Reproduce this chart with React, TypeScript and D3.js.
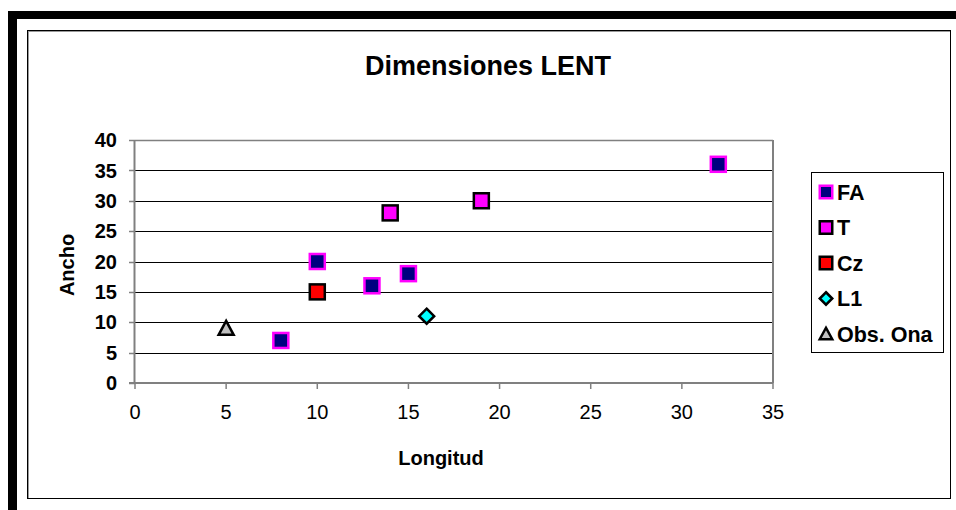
import React from "react";
import * as d3 from "d3";

const title = "Dimensiones LENT";
const xLabel = "Longitud";
const yLabel = "Ancho";
const xTicks = [0, 5, 10, 15, 20, 25, 30, 35];
const yTicks = [0, 5, 10, 15, 20, 25, 30, 35, 40];

const faX = [8, 10, 13, 15, 32];
const faY = [7, 20, 16, 18, 36];
const tX = [14, 19];
const tY = [28, 30];
const czX = [10];
const czY = [15];
const l1X = [16];
const l1Y = [11];
const onaX = [5];
const onaY = [9];

const seriesNames = ["FA", "T", "Cz", "L1", "Obs. Ona"];

type Shape = "square" | "diamond" | "triangle";
const seriesStyle: { fill: string; stroke: string; shape: Shape }[] = [
  { fill: "#000080", stroke: "#FF00FF", shape: "square" },
  { fill: "#FF00FF", stroke: "#000000", shape: "square" },
  { fill: "#FF0000", stroke: "#000000", shape: "square" },
  { fill: "#00FFFF", stroke: "#000000", shape: "diamond" },
  { fill: "#C0C0C0", stroke: "#000000", shape: "triangle" },
];
const seriesData = [
  [faX, faY],
  [tX, tY],
  [czX, czY],
  [l1X, l1Y],
  [onaX, onaY],
];

const font = "'Liberation Sans', Arial, sans-serif";

function Marker({ x, y, shape, fill, stroke, size }: { x: number; y: number; shape: Shape; fill: string; stroke: string; size: number }) {
  const h = size / 2;
  if (shape === "square") {
    return <rect x={x - h} y={y - h} width={size} height={size} fill={fill} stroke={stroke} strokeWidth={2.5} />;
  }
  if (shape === "diamond") {
    return <path d={`M${x},${y - h}L${x + h},${y}L${x},${y + h}L${x - h},${y}Z`} fill={fill} stroke={stroke} strokeWidth={2.5} strokeLinejoin="miter" />;
  }
  return <path d={`M${x},${y - h}L${x + h},${y + h - 1}L${x - h},${y + h - 1}Z`} fill={fill} stroke={stroke} strokeWidth={2.5} />;
}

export default function App() {
  const W = 956, H = 510;
  const x = d3.scaleLinear().domain([0, 35]).range([135, 773]);
  const y = d3.scaleLinear().domain([0, 40]).range([383, 140]);

  return (
    <svg width={W} height={H} style={{ position: "absolute", left: 0, top: 0 }} fontFamily={font}>
      <rect x={0} y={0} width={W} height={H} fill="#fff" />
      {/* black frame */}
      <rect x={8} y={11} width={948} height={8} fill="#000" />
      <rect x={8} y={11} width={9} height={499} fill="#000" />
      {/* chart area border */}
      <rect x={27.5} y={30.5} width={923} height={468} fill="#fff" stroke="#000" strokeWidth={1} />
      <line x1={28} y1={31.5} x2={950} y2={31.5} stroke="#999" strokeWidth={1} />
      <line x1={28.5} y1={31} x2={28.5} y2={498} stroke="#999" strokeWidth={1} />

      <text x={488} y={75} textAnchor="middle" fontSize={27} fontWeight="bold">{title}</text>

      {/* gridlines */}
      {yTicks.slice(1, -1).map((t) => (
        <line key={"g" + t} x1={x(0)} x2={x(35)} y1={Math.round(y(t)) + 0.5} y2={Math.round(y(t)) + 0.5} stroke="#000" strokeWidth={1} />
      ))}
      {/* plot border */}
      <line x1={x(0)} x2={x(35)} y1={140.5} y2={140.5} stroke="#808080" strokeWidth={1.5} />
      <line x1={773} x2={773} y1={140} y2={383} stroke="#808080" strokeWidth={2} />
      {/* axes */}
      <line x1={134.5} x2={134.5} y1={140} y2={384} stroke="#808080" strokeWidth={2} />
      <line x1={129} x2={773} y1={383} y2={383} stroke="#808080" strokeWidth={2} />
      {yTicks.map((t) => (
        <g key={"y" + t}>
          <line x1={129} x2={135} y1={Math.round(y(t)) + 0.5} y2={Math.round(y(t)) + 0.5} stroke="#808080" strokeWidth={1.5} />
          <text x={117} y={y(t)} dy="0.36em" textAnchor="end" fontSize={20} fontWeight="bold">{t}</text>
        </g>
      ))}
      {xTicks.map((t) => (
        <g key={"x" + t}>
          <line x1={x(t)} x2={x(t)} y1={383} y2={389} stroke="#808080" strokeWidth={1.5} />
          <text x={x(t)} y={419} textAnchor="middle" fontSize={20}>{t}</text>
        </g>
      ))}

      <text x={441} y={465} textAnchor="middle" fontSize={20} fontWeight="bold">{xLabel}</text>
      <text transform={`translate(74,265) rotate(-90)`} textAnchor="middle" fontSize={20} fontWeight="bold">{yLabel}</text>

      {/* points */}
      {seriesData.map(([xs, ys], si) =>
        xs.map((v, i) => (
          <Marker key={si + "-" + i} x={x(v)} y={y(ys[i])} size={15} shape={seriesStyle[si].shape} fill={seriesStyle[si].fill} stroke={seriesStyle[si].stroke} />
        ))
      )}

      {/* legend */}
      <rect x={811.5} y={172.5} width={132} height={180} fill="#fff" stroke="#000" strokeWidth={1} />
      {seriesNames.map((n, i) => {
        const ly = 192 + i * 35.5;
        return (
          <g key={n}>
            <Marker x={826} y={ly} size={12.5} shape={seriesStyle[i].shape} fill={seriesStyle[i].fill} stroke={seriesStyle[i].stroke} />
            <text x={837} y={ly} dy="0.36em" fontSize={21.5} fontWeight="bold">{n}</text>
          </g>
        );
      })}
    </svg>
  );
}
